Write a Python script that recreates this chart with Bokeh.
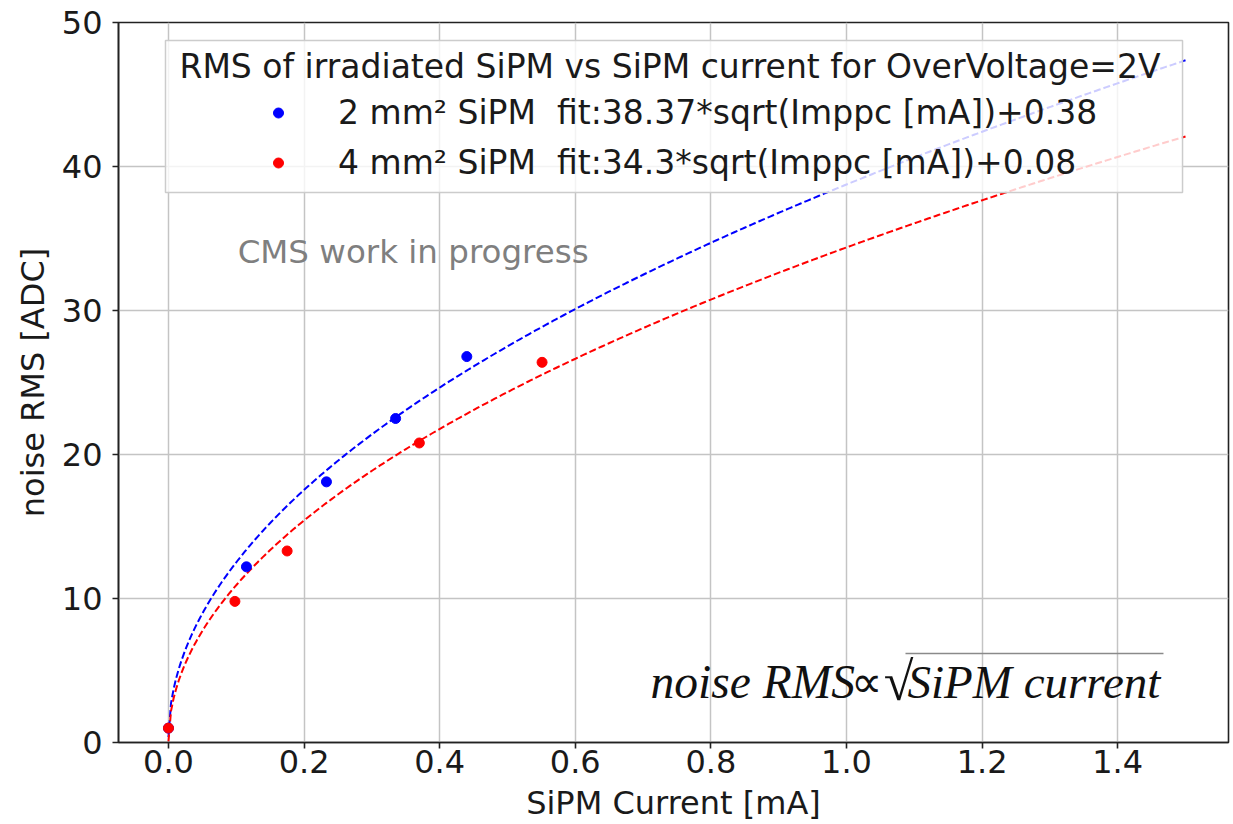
import numpy as np
from bokeh.plotting import figure
from bokeh.models import (Range1d, Legend, LegendItem, Label, FixedTicker,
                          PrintfTickFormatter, BoxAnnotation)
from bokeh.embed import file_html
from bokeh.resources import INLINE

# ---------------- data ----------------
blue_x = [0.0, 0.115, 0.233, 0.335, 0.440]
blue_y = [1.0, 12.2, 18.1, 22.5, 26.8]
red_x = [0.0, 0.098, 0.175, 0.370, 0.551]
red_y = [1.0, 9.8, 13.3, 20.8, 26.4]

# fit parameters printed in the legend: y = a*sqrt(I) + b
blue_fit = (38.37, 0.38)
red_fit = (34.3, 0.08)
fit_x_max = 1.5

x_ticks = [0.0, 0.2, 0.4, 0.6, 0.8, 1.0, 1.2, 1.4]
y_ticks = [0, 10, 20, 30, 40, 50]

legend_title = "RMS of irradiated SiPM vs SiPM current for OverVoltage=2V"
blue_label = "2 mm\u00b2 SiPM  fit:38.37*sqrt(Imppc [mA])+0.38"
red_label = "4 mm\u00b2 SiPM  fit:34.3*sqrt(Imppc [mA])+0.08"
x_label = "SiPM Current [mA]"
y_label = "noise RMS [ADC]"
cms_text = "CMS work in progress"
formula_left = "noise RMS"
formula_prop = "\u221d"
formula_root = "\u221a"
formula_right = "SiPM current"

# ---------------- figure ----------------
p = figure(frame_width=1110, frame_height=720,
           x_range=Range1d(-0.0737, 1.5634), y_range=Range1d(0, 50),
           output_backend="svg", toolbar_location=None,
           min_border_left=118, min_border_right=3, min_border_top=22,
           min_border_bottom=0)

p.background_fill_color = "white"
p.border_fill_color = "white"
p.outline_line_color = "#222222"
p.outline_line_width = 1.6

for ax in (p.xaxis[0], p.yaxis[0]):
    ax.axis_line_color = "#222222"
    ax.axis_line_width = 1.6
    ax.major_tick_line_color = "#222222"
    ax.major_tick_line_width = 1.6
    ax.major_tick_out = 6
    ax.major_tick_in = 0
    ax.minor_tick_out = 0
    ax.minor_tick_in = 0
    ax.major_label_text_font = "DejaVu Sans"
    ax.major_label_text_font_size = "32px"
    ax.major_label_text_color = "#1a1a1a"
    ax.axis_label_text_font = "DejaVu Sans"
    ax.axis_label_text_font_size = "32px"
    ax.axis_label_text_font_style = "normal"
    ax.axis_label_text_color = "#1a1a1a"

p.xaxis[0].major_label_standoff = 1
p.xaxis[0].axis_label_standoff = 8
p.yaxis[0].major_label_standoff = 10
p.yaxis[0].axis_label_standoff = 7

p.xaxis[0].ticker = FixedTicker(ticks=x_ticks)
p.xaxis[0].formatter = PrintfTickFormatter(format="%.1f")
p.yaxis[0].ticker = FixedTicker(ticks=y_ticks)
p.xaxis[0].axis_label = x_label
p.yaxis[0].axis_label = y_label

p.xgrid[0].ticker = FixedTicker(ticks=x_ticks)
p.ygrid[0].ticker = FixedTicker(ticks=y_ticks)
for g in (p.xgrid[0], p.ygrid[0]):
    g.grid_line_color = "#c4c4c4"
    g.grid_line_width = 1.5

# fit curves
fx = np.linspace(0.0, fit_x_max, 400)
p.line(fx, blue_fit[0] * np.sqrt(fx) + blue_fit[1], line_color="#0000ff",
       line_width=2, line_dash="7 3")
p.line(fx, red_fit[0] * np.sqrt(fx) + red_fit[1], line_color="#ff0000",
       line_width=2, line_dash="7 3")

rb = p.scatter(blue_x, blue_y, size=10, fill_color="#0000ff", line_color="#0000ff")
rr = p.scatter(red_x, red_y, size=10, fill_color="#ff0000", line_color="#ff0000")

# annotations
p.add_layout(Label(x=0.102, y=34.03, text=cms_text, text_font="DejaVu Sans",
                   text_font_size="32.5px", text_color="#7f7f7f",
                   text_baseline="alphabetic"))
serif = dict(text_font="Liberation Serif", text_font_style="italic",
             text_color="#111111", text_baseline="alphabetic")
p.add_layout(Label(x=0.711, y=4.2, text=formula_left, text_font_size="47.5px", **serif))
p.add_layout(Label(x=1.006, y=4.2, text=formula_prop, text_font_size="44px",
                   text_font="Liberation Serif", text_color="#111111",
                   text_baseline="alphabetic"))
p.add_layout(Label(x=1.055, y=4.2, text=formula_root, text_font_size="54px",
                   text_font="Liberation Serif", text_color="#111111",
                   text_baseline="alphabetic"))
p.add_layout(Label(x=1.090, y=4.2, text=formula_right, text_font_size="47px", **serif))
p.add_layout(BoxAnnotation(left=1.087, right=1.4675, bottom=6.13, top=6.23,
                           fill_color="#8a8a8a", fill_alpha=1.0, line_color=None))

# legend frame + title
p.add_layout(BoxAnnotation(left=-0.0044, right=1.4956, bottom=38.19, top=48.75,
                           fill_color="white", fill_alpha=0.8,
                           line_color="#cccccc", line_width=1.5, line_alpha=1.0))
p.add_layout(Label(x=0.0162, y=46.96, text=legend_title, text_font="DejaVu Sans",
                   text_font_size="33px", text_color="#1a1a1a",
                   text_baseline="alphabetic"))

legend = Legend(items=[LegendItem(label=blue_label, renderers=[rb]),
                       LegendItem(label=red_label, renderers=[rr])],
                location=(94, 554), margin=0, padding=6, spacing=11,
                label_text_font="DejaVu Sans", label_text_font_size="33px",
                label_text_color="#1a1a1a",
                glyph_width=120, glyph_height=25, label_height=25,
                label_standoff=0,
                background_fill_color="white", background_fill_alpha=0.0,
                border_line_color="#cccccc", border_line_alpha=0.0)
p.add_layout(legend, "center")

open("out.html", "w").write(file_html(p, INLINE))
